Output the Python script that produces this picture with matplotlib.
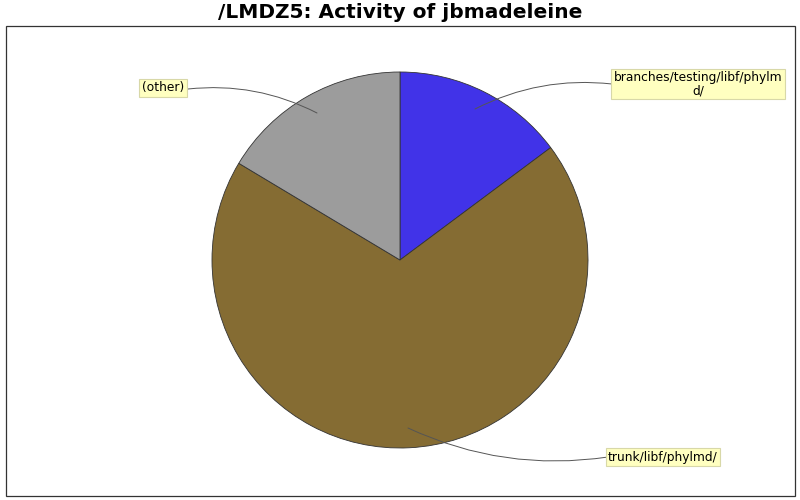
import matplotlib
matplotlib.use("Agg")
import matplotlib.pyplot as plt
from matplotlib.patches import Rectangle

labels = ["branches/testing/libf/phylm\nd/", "trunk/libf/phylmd/", "(other)"]
values = [14.8, 68.8, 16.4]
colors = ["#4133e8", "#856c33", "#9c9c9c"]

fig = plt.figure(figsize=(8, 5), dpi=100)
ax = fig.add_axes([0, 0, 1, 1])
ax.set_xlim(0, 800)
ax.set_ylim(0, 500)
ax.axis("off")

# frame
ax.add_patch(Rectangle((5.5, 4.5), 789, 470, fill=False, edgecolor="#333333", lw=0.9))

cx, cy, r = 400, 240, 188
wedges, _ = ax.pie(values, colors=colors, startangle=90, counterclock=False,
                   center=(cx, cy), radius=r,
                   wedgeprops=dict(edgecolor="#333333", linewidth=0.6))
ax.set_xlim(0, 800)
ax.set_ylim(0, 500)
ax.set_aspect("equal")

bbox = dict(boxstyle="square,pad=0.2", facecolor="#ffffc0", edgecolor="#d8d8a8", lw=0.8)
ann = [
    ((698, 416), (475, 391), 0.15, (612, 416)),
    ((663, 43), (408, 72), -0.15, (608, 43)),
    ((163, 412), (317, 387), -0.15, (188, 411)),
]
for (pos, pt, rad, start), lab in zip(ann, labels):
    ax.text(pos[0], pos[1], lab, ha="center", va="center", fontsize=8.8,
            bbox=bbox, linespacing=1.0, zorder=5)
    ax.annotate("", xy=pt, xytext=start,
                arrowprops=dict(arrowstyle="-", color="#555555", lw=0.7,
                                connectionstyle=f"arc3,rad={rad}",
                                shrinkA=0, shrinkB=0), zorder=4)

fig.text(0.5, 1 - 13 / 500, "/LMDZ5: Activity of jbmadeleine", ha="center", va="center",
         fontsize=14.5, fontweight="bold")

fig.savefig("out.png", dpi=100)
